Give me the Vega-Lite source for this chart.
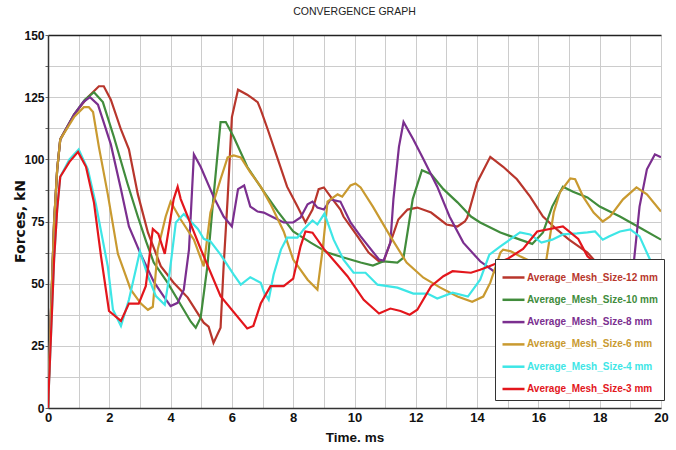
{
  "$schema": "https://vega.github.io/schema/vega-lite/v6.json",
  "width": 613,
  "height": 373,
  "autosize": "none",
  "padding": {"left": 48, "top": 35, "right": 15, "bottom": 42},
  "background": "white",
  "title": {"text": "CONVERGENCE GRAPH", "font": "Liberation Sans, Arial, sans-serif", "fontSize": 10.5, "fontWeight": "normal", "color": "#222", "offset": 12, "anchor": "middle"},
  "config": {"view": {"stroke": null}},
  "data": {"values": [
    {"m":"12 mm","t":0,"f":0},{"m":"12 mm","t":0.1,"f":40},{"m":"12 mm","t":0.2,"f":75},{"m":"12 mm","t":0.3,"f":96},{"m":"12 mm","t":0.4,"f":108},{"m":"12 mm","t":0.85,"f":118},{"m":"12 mm","t":1.3,"f":125},{"m":"12 mm","t":1.66,"f":129.4},{"m":"12 mm","t":1.82,"f":129.4},{"m":"12 mm","t":2.05,"f":124},{"m":"12 mm","t":2.38,"f":112},{"m":"12 mm","t":2.64,"f":104},{"m":"12 mm","t":2.93,"f":86},{"m":"12 mm","t":3.26,"f":70.6},{"m":"12 mm","t":3.68,"f":57},{"m":"12 mm","t":4.1,"f":50.4},{"m":"12 mm","t":4.56,"f":44.4},{"m":"12 mm","t":5.08,"f":34.3},{"m":"12 mm","t":5.24,"f":32.7},{"m":"12 mm","t":5.4,"f":26.2},{"m":"12 mm","t":5.63,"f":32.3},{"m":"12 mm","t":5.73,"f":57},{"m":"12 mm","t":5.86,"f":84},{"m":"12 mm","t":6.0,"f":117},{"m":"12 mm","t":6.2,"f":128},{"m":"12 mm","t":6.5,"f":126},{"m":"12 mm","t":6.84,"f":123},{"m":"12 mm","t":6.94,"f":120},{"m":"12 mm","t":7.17,"f":112},{"m":"12 mm","t":7.5,"f":100},{"m":"12 mm","t":7.8,"f":89},{"m":"12 mm","t":8.14,"f":81},{"m":"12 mm","t":8.4,"f":74.6},{"m":"12 mm","t":8.63,"f":79.8},{"m":"12 mm","t":8.83,"f":88},{"m":"12 mm","t":9.0,"f":88.7},{"m":"12 mm","t":9.22,"f":85},{"m":"12 mm","t":9.54,"f":79.8},{"m":"12 mm","t":9.64,"f":77},{"m":"12 mm","t":10.1,"f":69},{"m":"12 mm","t":10.46,"f":62.5},{"m":"12 mm","t":10.8,"f":59},{"m":"12 mm","t":10.95,"f":59},{"m":"12 mm","t":11.17,"f":66.5},{"m":"12 mm","t":11.43,"f":75.8},{"m":"12 mm","t":11.73,"f":79.8},{"m":"12 mm","t":12.05,"f":80.6},{"m":"12 mm","t":12.5,"f":78.6},{"m":"12 mm","t":13.0,"f":73.8},{"m":"12 mm","t":13.36,"f":73},{"m":"12 mm","t":13.6,"f":75},{"m":"12 mm","t":13.68,"f":76.6},{"m":"12 mm","t":14.0,"f":90.7},{"m":"12 mm","t":14.43,"f":101},{"m":"12 mm","t":14.85,"f":97},{"m":"12 mm","t":15.3,"f":92},{"m":"12 mm","t":15.73,"f":85},{"m":"12 mm","t":16.15,"f":77},{"m":"12 mm","t":16.6,"f":71.8},{"m":"12 mm","t":17.0,"f":67.7},{"m":"12 mm","t":17.6,"f":62.5},{"m":"12 mm","t":18.0,"f":57},{"m":"12 mm","t":18.6,"f":52},{"m":"12 mm","t":19.3,"f":50},{"m":"12 mm","t":20,"f":50},
    {"m":"10 mm","t":0,"f":0},{"m":"10 mm","t":0.1,"f":40},{"m":"10 mm","t":0.2,"f":75},{"m":"10 mm","t":0.3,"f":96},{"m":"10 mm","t":0.4,"f":108},{"m":"10 mm","t":0.85,"f":118},{"m":"10 mm","t":1.2,"f":124},{"m":"10 mm","t":1.5,"f":127},{"m":"10 mm","t":1.79,"f":123},{"m":"10 mm","t":2.15,"f":109},{"m":"10 mm","t":2.6,"f":90},{"m":"10 mm","t":2.93,"f":77},{"m":"10 mm","t":3.2,"f":67},{"m":"10 mm","t":3.45,"f":58.5},{"m":"10 mm","t":3.9,"f":50.4},{"m":"10 mm","t":4.33,"f":41.5},{"m":"10 mm","t":4.66,"f":34.7},{"m":"10 mm","t":4.82,"f":32.3},{"m":"10 mm","t":4.98,"f":36.3},{"m":"10 mm","t":5.2,"f":57},{"m":"10 mm","t":5.37,"f":81},{"m":"10 mm","t":5.63,"f":115},{"m":"10 mm","t":5.8,"f":115},{"m":"10 mm","t":6.06,"f":109},{"m":"10 mm","t":6.5,"f":97},{"m":"10 mm","t":7.04,"f":87},{"m":"10 mm","t":7.5,"f":79},{"m":"10 mm","t":8.0,"f":71},{"m":"10 mm","t":8.57,"f":66.5},{"m":"10 mm","t":9.12,"f":62.5},{"m":"10 mm","t":9.64,"f":60.5},{"m":"10 mm","t":10.2,"f":58.5},{"m":"10 mm","t":10.6,"f":57.3},{"m":"10 mm","t":10.95,"f":59},{"m":"10 mm","t":11.4,"f":58.5},{"m":"10 mm","t":11.6,"f":60.5},{"m":"10 mm","t":11.76,"f":73},{"m":"10 mm","t":11.9,"f":84},{"m":"10 mm","t":12.2,"f":95.6},{"m":"10 mm","t":12.5,"f":94},{"m":"10 mm","t":12.9,"f":88},{"m":"10 mm","t":13.36,"f":82.7},{"m":"10 mm","t":13.8,"f":77},{"m":"10 mm","t":14.1,"f":74.6},{"m":"10 mm","t":14.76,"f":70.6},{"m":"10 mm","t":15.4,"f":67.7},{"m":"10 mm","t":15.8,"f":66},{"m":"10 mm","t":16.15,"f":70.6},{"m":"10 mm","t":16.45,"f":81},{"m":"10 mm","t":16.8,"f":89},{"m":"10 mm","t":17.13,"f":87},{"m":"10 mm","t":17.6,"f":84.7},{"m":"10 mm","t":18.0,"f":81},{"m":"10 mm","t":18.66,"f":77},{"m":"10 mm","t":19.3,"f":72.6},{"m":"10 mm","t":20,"f":67.7},
    {"m":"8 mm","t":0,"f":0},{"m":"8 mm","t":0.1,"f":40},{"m":"8 mm","t":0.2,"f":75},{"m":"8 mm","t":0.3,"f":96},{"m":"8 mm","t":0.4,"f":108},{"m":"8 mm","t":0.85,"f":118},{"m":"8 mm","t":1.15,"f":123},{"m":"8 mm","t":1.37,"f":125},{"m":"8 mm","t":1.63,"f":122},{"m":"8 mm","t":2.05,"f":106},{"m":"8 mm","t":2.38,"f":88},{"m":"8 mm","t":2.64,"f":73},{"m":"8 mm","t":3.03,"f":61.7},{"m":"8 mm","t":3.45,"f":50.8},{"m":"8 mm","t":3.78,"f":44.8},{"m":"8 mm","t":4.0,"f":41},{"m":"8 mm","t":4.23,"f":42.3},{"m":"8 mm","t":4.43,"f":47.6},{"m":"8 mm","t":4.6,"f":63.7},{"m":"8 mm","t":4.76,"f":102},{"m":"8 mm","t":4.98,"f":97},{"m":"8 mm","t":5.4,"f":85},{"m":"8 mm","t":5.73,"f":77},{"m":"8 mm","t":6.0,"f":73},{"m":"8 mm","t":6.2,"f":88},{"m":"8 mm","t":6.4,"f":89.5},{"m":"8 mm","t":6.6,"f":81},{"m":"8 mm","t":6.84,"f":79},{"m":"8 mm","t":7.04,"f":78.6},{"m":"8 mm","t":7.36,"f":76.6},{"m":"8 mm","t":7.69,"f":74.6},{"m":"8 mm","t":8.0,"f":74.6},{"m":"8 mm","t":8.24,"f":76.6},{"m":"8 mm","t":8.47,"f":81.9},{"m":"8 mm","t":8.63,"f":83},{"m":"8 mm","t":8.79,"f":80.6},{"m":"8 mm","t":9.0,"f":79.8},{"m":"8 mm","t":9.22,"f":83.9},{"m":"8 mm","t":9.54,"f":83},{"m":"8 mm","t":9.87,"f":74.6},{"m":"8 mm","t":10.2,"f":69},{"m":"8 mm","t":10.8,"f":59.7},{"m":"8 mm","t":10.95,"f":59.3},{"m":"8 mm","t":11.17,"f":66.5},{"m":"8 mm","t":11.27,"f":84},{"m":"8 mm","t":11.45,"f":105},{"m":"8 mm","t":11.6,"f":115},{"m":"8 mm","t":11.92,"f":108},{"m":"8 mm","t":12.25,"f":100},{"m":"8 mm","t":12.7,"f":89},{"m":"8 mm","t":13.1,"f":77},{"m":"8 mm","t":13.55,"f":66.5},{"m":"8 mm","t":14.1,"f":59},{"m":"8 mm","t":14.7,"f":53.6},{"m":"8 mm","t":15.5,"f":48},{"m":"8 mm","t":16.5,"f":44},{"m":"8 mm","t":17.5,"f":42},{"m":"8 mm","t":18.5,"f":43},{"m":"8 mm","t":19.0,"f":50},{"m":"8 mm","t":19.1,"f":57},{"m":"8 mm","t":19.3,"f":81},{"m":"8 mm","t":19.54,"f":96},{"m":"8 mm","t":19.8,"f":102},{"m":"8 mm","t":20,"f":100.8},
    {"m":"6 mm","t":0,"f":0},{"m":"6 mm","t":0.1,"f":40},{"m":"6 mm","t":0.2,"f":75},{"m":"6 mm","t":0.3,"f":96},{"m":"6 mm","t":0.4,"f":108},{"m":"6 mm","t":0.85,"f":117},{"m":"6 mm","t":1.17,"f":121},{"m":"6 mm","t":1.33,"f":121},{"m":"6 mm","t":1.47,"f":119},{"m":"6 mm","t":1.66,"f":105},{"m":"6 mm","t":1.95,"f":86},{"m":"6 mm","t":2.28,"f":62},{"m":"6 mm","t":2.7,"f":47.6},{"m":"6 mm","t":3.03,"f":42},{"m":"6 mm","t":3.26,"f":39.5},{"m":"6 mm","t":3.42,"f":40.7},{"m":"6 mm","t":3.58,"f":63.7},{"m":"6 mm","t":3.84,"f":77},{"m":"6 mm","t":4.0,"f":83},{"m":"6 mm","t":4.33,"f":75.8},{"m":"6 mm","t":4.76,"f":67.7},{"m":"6 mm","t":5.08,"f":57},{"m":"6 mm","t":5.3,"f":78.6},{"m":"6 mm","t":5.63,"f":92},{"m":"6 mm","t":5.86,"f":100.8},{"m":"6 mm","t":6.06,"f":101.6},{"m":"6 mm","t":6.29,"f":100.8},{"m":"6 mm","t":6.6,"f":94.8},{"m":"6 mm","t":6.94,"f":89},{"m":"6 mm","t":7.26,"f":82},{"m":"6 mm","t":7.69,"f":71},{"m":"6 mm","t":8.0,"f":59.7},{"m":"6 mm","t":8.47,"f":51.6},{"m":"6 mm","t":8.79,"f":47.6},{"m":"6 mm","t":8.96,"f":63.7},{"m":"6 mm","t":9.12,"f":83},{"m":"6 mm","t":9.45,"f":85.9},{"m":"6 mm","t":9.6,"f":85},{"m":"6 mm","t":9.87,"f":89.5},{"m":"6 mm","t":10.03,"f":90.3},{"m":"6 mm","t":10.2,"f":88.7},{"m":"6 mm","t":10.6,"f":81},{"m":"6 mm","t":11.17,"f":69},{"m":"6 mm","t":11.7,"f":58.5},{"m":"6 mm","t":12.25,"f":52.4},{"m":"6 mm","t":12.8,"f":48.4},{"m":"6 mm","t":13.36,"f":44.8},{"m":"6 mm","t":13.84,"f":42.7},{"m":"6 mm","t":14.2,"f":44.8},{"m":"6 mm","t":14.43,"f":50.4},{"m":"6 mm","t":14.76,"f":62.5},{"m":"6 mm","t":14.85,"f":63.7},{"m":"6 mm","t":15.1,"f":63},{"m":"6 mm","t":15.4,"f":61},{"m":"6 mm","t":15.83,"f":58.5},{"m":"6 mm","t":16.2,"f":55},{"m":"6 mm","t":16.5,"f":78.6},{"m":"6 mm","t":16.7,"f":86.7},{"m":"6 mm","t":17.04,"f":92.3},{"m":"6 mm","t":17.2,"f":92},{"m":"6 mm","t":17.46,"f":85},{"m":"6 mm","t":17.8,"f":78.6},{"m":"6 mm","t":18.1,"f":75},{"m":"6 mm","t":18.34,"f":77},{"m":"6 mm","t":18.76,"f":83.9},{"m":"6 mm","t":19.2,"f":88.7},{"m":"6 mm","t":19.54,"f":85.9},{"m":"6 mm","t":20,"f":79},
    {"m":"4 mm","t":0,"f":0},{"m":"4 mm","t":0.1,"f":30},{"m":"4 mm","t":0.2,"f":60},{"m":"4 mm","t":0.3,"f":80},{"m":"4 mm","t":0.4,"f":93},{"m":"4 mm","t":0.7,"f":100},{"m":"4 mm","t":1.0,"f":104},{"m":"4 mm","t":1.3,"f":96},{"m":"4 mm","t":1.56,"f":82},{"m":"4 mm","t":1.95,"f":57},{"m":"4 mm","t":2.12,"f":39.5},{"m":"4 mm","t":2.38,"f":33},{"m":"4 mm","t":2.64,"f":43.5},{"m":"4 mm","t":3.0,"f":63},{"m":"4 mm","t":3.26,"f":53},{"m":"4 mm","t":3.52,"f":45},{"m":"4 mm","t":3.81,"f":41.5},{"m":"4 mm","t":3.94,"f":51.6},{"m":"4 mm","t":4.17,"f":74.6},{"m":"4 mm","t":4.43,"f":78},{"m":"4 mm","t":4.89,"f":72},{"m":"4 mm","t":5.08,"f":68},{"m":"4 mm","t":5.3,"f":67},{"m":"4 mm","t":5.63,"f":61.7},{"m":"4 mm","t":6.06,"f":53.6},{"m":"4 mm","t":6.29,"f":49.6},{"m":"4 mm","t":6.6,"f":52.6},{"m":"4 mm","t":6.94,"f":50.4},{"m":"4 mm","t":7.04,"f":46.8},{"m":"4 mm","t":7.2,"f":43.5},{"m":"4 mm","t":7.36,"f":53.6},{"m":"4 mm","t":7.6,"f":63.7},{"m":"4 mm","t":7.8,"f":68.5},{"m":"4 mm","t":8.14,"f":68.5},{"m":"4 mm","t":8.34,"f":71.8},{"m":"4 mm","t":8.63,"f":75.4},{"m":"4 mm","t":8.79,"f":73.8},{"m":"4 mm","t":9.02,"f":78.2},{"m":"4 mm","t":9.32,"f":67.7},{"m":"4 mm","t":9.64,"f":59.7},{"m":"4 mm","t":9.97,"f":54.4},{"m":"4 mm","t":10.36,"f":54.4},{"m":"4 mm","t":10.75,"f":49.6},{"m":"4 mm","t":11.4,"f":48.4},{"m":"4 mm","t":11.92,"f":46},{"m":"4 mm","t":12.38,"f":46},{"m":"4 mm","t":12.7,"f":44},{"m":"4 mm","t":13.2,"f":46.4},{"m":"4 mm","t":13.7,"f":44.8},{"m":"4 mm","t":14.1,"f":51.6},{"m":"4 mm","t":14.4,"f":61.7},{"m":"4 mm","t":14.76,"f":65},{"m":"4 mm","t":15.4,"f":70.6},{"m":"4 mm","t":15.73,"f":69.8},{"m":"4 mm","t":16.1,"f":66.5},{"m":"4 mm","t":16.45,"f":67.7},{"m":"4 mm","t":16.8,"f":69.8},{"m":"4 mm","t":17.26,"f":70.2},{"m":"4 mm","t":17.6,"f":70.6},{"m":"4 mm","t":17.85,"f":71},{"m":"4 mm","t":18.1,"f":67.7},{"m":"4 mm","t":18.3,"f":69},{"m":"4 mm","t":18.66,"f":71},{"m":"4 mm","t":19.0,"f":71.8},{"m":"4 mm","t":19.3,"f":69},{"m":"4 mm","t":19.64,"f":59.7},{"m":"4 mm","t":20,"f":52},
    {"m":"3 mm","t":0,"f":0},{"m":"3 mm","t":0.1,"f":30},{"m":"3 mm","t":0.2,"f":60},{"m":"3 mm","t":0.3,"f":80},{"m":"3 mm","t":0.4,"f":93},{"m":"3 mm","t":0.7,"f":99},{"m":"3 mm","t":0.98,"f":103},{"m":"3 mm","t":1.24,"f":97},{"m":"3 mm","t":1.5,"f":82.6},{"m":"3 mm","t":1.73,"f":61},{"m":"3 mm","t":1.99,"f":39},{"m":"3 mm","t":2.38,"f":35},{"m":"3 mm","t":2.64,"f":42},{"m":"3 mm","t":2.96,"f":42},{"m":"3 mm","t":3.19,"f":49},{"m":"3 mm","t":3.42,"f":72},{"m":"3 mm","t":3.6,"f":70},{"m":"3 mm","t":3.81,"f":62},{"m":"3 mm","t":4.1,"f":84},{"m":"3 mm","t":4.23,"f":89},{"m":"3 mm","t":4.33,"f":84},{"m":"3 mm","t":4.98,"f":64},{"m":"3 mm","t":5.63,"f":45},{"m":"3 mm","t":6.5,"f":32},{"m":"3 mm","t":6.7,"f":33},{"m":"3 mm","t":6.94,"f":42},{"m":"3 mm","t":7.26,"f":49},{"m":"3 mm","t":7.69,"f":49},{"m":"3 mm","t":8.0,"f":52},{"m":"3 mm","t":8.24,"f":65},{"m":"3 mm","t":8.4,"f":71},{"m":"3 mm","t":8.63,"f":70.5},{"m":"3 mm","t":9.0,"f":64},{"m":"3 mm","t":9.77,"f":53},{"m":"3 mm","t":10.3,"f":43.5},{"m":"3 mm","t":10.8,"f":38},{"m":"3 mm","t":11.17,"f":40},{"m":"3 mm","t":11.5,"f":39},{"m":"3 mm","t":11.8,"f":37.5},{"m":"3 mm","t":12.05,"f":39.5},{"m":"3 mm","t":12.5,"f":49},{"m":"3 mm","t":12.9,"f":53},{"m":"3 mm","t":13.2,"f":55},{"m":"3 mm","t":13.8,"f":54.4},{"m":"3 mm","t":14.1,"f":55.6},{"m":"3 mm","t":14.4,"f":57},{"m":"3 mm","t":15.0,"f":60},{"m":"3 mm","t":15.5,"f":64},{"m":"3 mm","t":15.96,"f":71},{"m":"3 mm","t":16.8,"f":73},{"m":"3 mm","t":17.3,"f":68},{"m":"3 mm","t":17.6,"f":61},{"m":"3 mm","t":18.2,"f":55},{"m":"3 mm","t":19.0,"f":50},{"m":"3 mm","t":20,"f":49}
  ]},
  "mark": {"type": "line", "strokeWidth": 2.2, "clip": true},
  "encoding": {
    "x": {"field": "t", "type": "quantitative",
      "scale": {"domain": [0, 20], "nice": false},
      "axis": {"values": [0,1,2,3,4,5,6,7,8,9,10,11,12,13,14,15,16,17,18,19,20],
        "labelExpr": "datum.value % 2 == 0 ? datum.label : ''",
        "title": "Time. ms", "titleFont": "Liberation Sans, Arial, sans-serif", "titleFontSize": 13.5, "titleFontWeight": "bold", "titleColor": "#111", "titlePadding": 6,
        "labelFont": "Liberation Sans, Arial, sans-serif", "labelFontSize": 13, "labelFontWeight": "bold", "labelColor": "#111", "labelPadding": 3,
        "domainColor": "#333", "domainWidth": 1.5, "tickSize": 0,
        "gridColor": "#cccccc", "gridWidth": 1, "labelFlush": false}},
    "y": {"field": "f", "type": "quantitative",
      "scale": {"domain": [0, 150], "nice": false},
      "axis": {"values": [0,12.5,25,37.5,50,62.5,75,87.5,100,112.5,125,137.5,150],
        "labelExpr": "datum.value % 25 == 0 ? datum.label : ''",
        "title": "Forces, kN", "titleFont": "DejaVu Sans, Verdana, sans-serif", "titleFontSize": 14, "titleFontWeight": "bold", "titleColor": "#111",
        "titleX": -21, "titleY": 186, "titleAngle": -90, "titleAlign": "center", "titleBaseline": "bottom",
        "labelFont": "Liberation Sans, Arial, sans-serif", "labelFontSize": 12, "labelFontWeight": "bold", "labelColor": "#111", "labelPadding": 1,
        "domainColor": "#333", "domainWidth": 1.5, "tickSize": 3, "tickColor": "#666",
        "gridColor": {"condition": {"test": "datum.value == 150", "value": "#222"}, "value": "#cccccc"},
        "gridWidth": {"condition": {"test": "datum.value == 150", "value": 1.5}, "value": 1}}},
    "color": {"field": "m", "type": "nominal",
      "scale": {"domain": ["12 mm", "10 mm", "8 mm", "6 mm", "4 mm", "3 mm"],
        "range": ["#b8362c", "#418c3c", "#7b2f8f", "#c99a30", "#3ee6e6", "#e3161c"]},
      "legend": {"orient": "none", "legendX": 447, "legendY": 224, "title": null,
        "strokeColor": "#333", "fillColor": "white", "padding": 6, "rowPadding": 4.3,
        "symbolType": "stroke", "symbolSize": 484, "symbolStrokeWidth": 2.5, "symbolOffset": 0,
        "labelFont": "Liberation Sans, Arial, sans-serif", "labelFontSize": 10, "labelFontWeight": "bold", "labelLimit": 0, "labelOffset": 1,
        "labelExpr": "'Average_Mesh_Size-' + datum.label",
        "encode": {"labels": {"update": {"fill": {"scale": "color", "field": "value"}}}}}}
  }
}
